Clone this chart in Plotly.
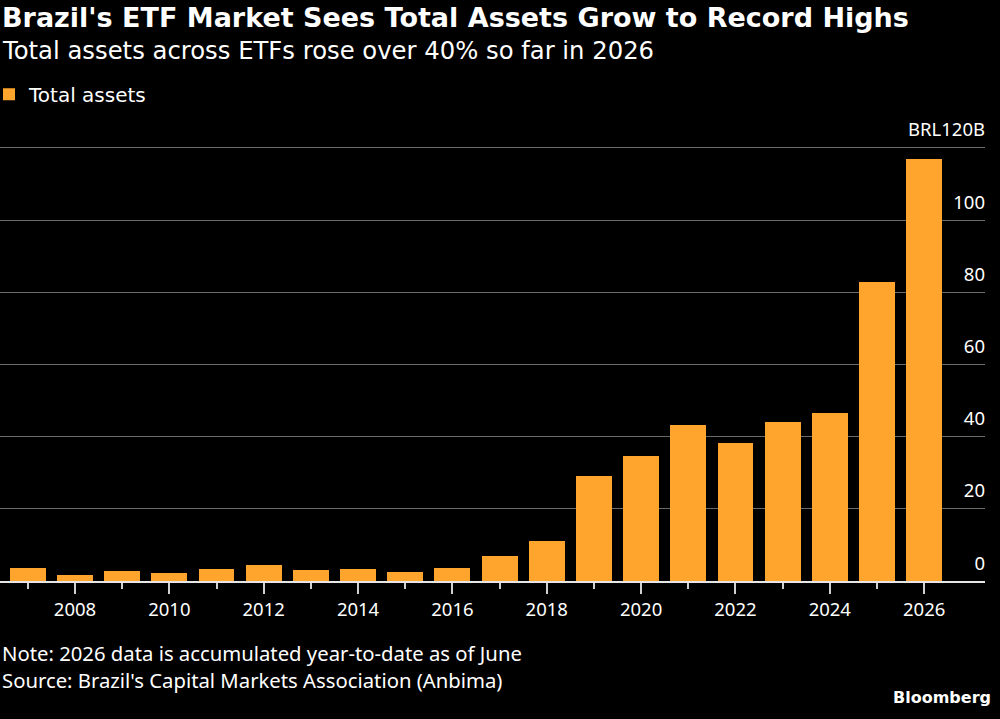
import plotly.graph_objects as go

years = list(range(2007, 2027))
total_assets = [3.6, 1.8, 2.7, 2.3, 3.2, 4.3, 3.0, 3.2, 2.6, 3.7,
                6.8, 11.2, 29.0, 34.7, 43.1, 38.2, 44.1, 46.6, 82.9, 116.9]
x_major_ticks = [2008, 2010, 2012, 2014, 2016, 2018, 2020, 2022, 2024, 2026]
x_minor_ticks = [2007, 2009, 2011, 2013, 2015, 2017, 2019, 2021, 2023, 2025]
y_ticks = [0, 20, 40, 60, 80, 100, 120]
y_tick_text = ["0", "20", "40", "60", "80", "100", "BRL120B"]

ORANGE = "#FFA42D"
FONT = "DejaVu Sans"
TICK_FONT = "Noto Sans"

PLOT_W = 985.0
PLOT_BOTTOM = 580.7
Y_TOP = 133.0
PX_PER_UNIT = 433.0 / 120.0
PLOT_H = Y_TOP * PX_PER_UNIT
TOP_MARGIN = PLOT_BOTTOM - PLOT_H

def py(p):
    return (PLOT_BOTTOM - p) / PLOT_H

def px(p):
    return p / PLOT_W

fig = go.Figure()
fig.add_trace(go.Bar(
    x=years, y=total_assets, name="Total assets",
    marker=dict(color=ORANGE, line=dict(width=0)),
    width=0.76, showlegend=True,
))
# invisible anchor point so the label-only overlay axis is drawn
fig.add_trace(go.Scatter(
    x=[years[0]], y=[0], yaxis="y2", mode="markers",
    marker=dict(opacity=0, size=1), showlegend=False, hoverinfo="skip",
))

fig.update_layout(
    width=1000, height=719,
    paper_bgcolor="black", plot_bgcolor="black",
    margin=dict(l=0, r=15, t=TOP_MARGIN, b=719 - PLOT_BOTTOM, pad=0,
                autoexpand=False),
    font=dict(family=FONT, color="white", size=17),
    showlegend=True,
    legend=dict(
        x=px(-11), y=py(94), xanchor="left", yanchor="middle",
        orientation="h", font=dict(family=FONT, size=20, color="white"),
        bgcolor="rgba(0,0,0,0)", itemwidth=30,
    ),
    bargap=0,
    xaxis=dict(
        range=[2006.41, 2027.29],
        tickmode="array", tickvals=x_major_ticks,
        ticktext=[str(v) for v in x_major_ticks],
        ticks="outside", ticklen=11, tickwidth=2, tickcolor="#d0d0d0",
        minor=dict(tickmode="array", tickvals=x_minor_ticks,
                   ticks="outside", ticklen=6,
                   tickwidth=2, tickcolor="#d0d0d0", showgrid=False),
        showline=True, linecolor="#e6e6e6", linewidth=2,
        showgrid=False, zeroline=False,
        tickfont=dict(family=TICK_FONT, size=18.5, color="white"),
        fixedrange=True,
    ),
    yaxis=dict(
        range=[0, Y_TOP], side="right",
        tickmode="array", tickvals=y_ticks,
        showticklabels=False,
        showgrid=True, gridcolor="#6b6b6b", gridwidth=1,
        zeroline=False, showline=False, ticks="",
        fixedrange=True,
    ),
    yaxis2=dict(
        overlaying="y", anchor="free", position=1.0,
        range=[0, Y_TOP], side="left",
        tickmode="array", tickvals=y_ticks, ticktext=y_tick_text,
        ticklabelposition="outside top", ticklabelshift=-5,
        showgrid=False, zeroline=False, showline=False, ticks="",
        tickfont=dict(family=TICK_FONT, size=18.5, color="white"),
        fixedrange=True,
    ),
)

fig.add_annotation(
    xref="paper", yref="paper", x=px(0), y=py(17),
    xanchor="left", yanchor="middle", showarrow=False,
    text="<b>Brazil's ETF Market Sees Total Assets Grow to Record Highs</b>",
    font=dict(family=FONT, size=27, color="white"),
)
fig.add_annotation(
    xref="paper", yref="paper", x=px(0), y=py(50),
    xanchor="left", yanchor="middle", showarrow=False,
    text="Total assets across ETFs rose over 40% so far in 2026",
    font=dict(family=FONT, size=24.3, color="white"),
)
fig.add_annotation(
    xref="paper", yref="paper", x=px(0), y=py(653),
    xanchor="left", yanchor="middle", showarrow=False,
    text="Note: 2026 data is accumulated year-to-date as of June",
    font=dict(family=TICK_FONT, size=20.3, color="white"),
)
fig.add_annotation(
    xref="paper", yref="paper", x=px(0), y=py(680),
    xanchor="left", yanchor="middle", showarrow=False,
    text="Source: Brazil's Capital Markets Association (Anbima)",
    font=dict(family=TICK_FONT, size=20.3, color="white"),
)
fig.add_annotation(
    xref="paper", yref="paper", x=px(993), y=py(697),
    xanchor="right", yanchor="middle", showarrow=False,
    text="<b>Bloomberg</b>",
    font=dict(family=FONT, size=16, color="white"),
)

fig.write_html("out.html")
